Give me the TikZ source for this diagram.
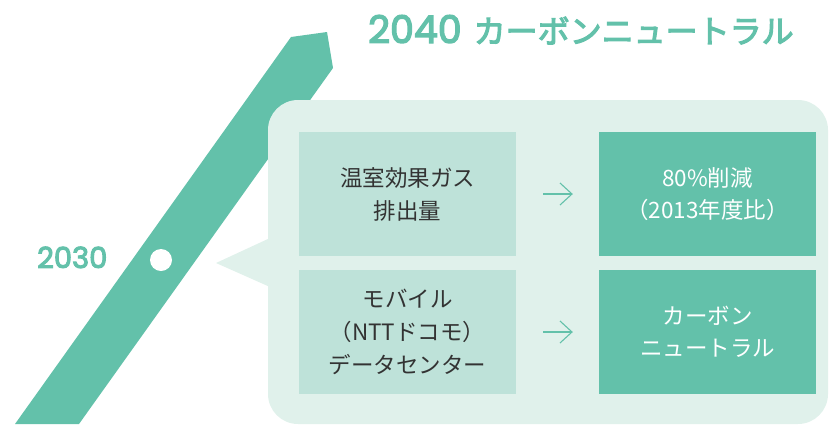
\documentclass[tikz,border=0pt]{standalone}
\usepackage{fontspec}
\usepackage{tikz}
\usetikzlibrary{arrows.meta}
\newfontfamily\jpfont{Noto Sans CJK JP}
\newfontfamily\jptitle[FakeBold=3.5]{Noto Sans CJK JP}
\newfontfamily\numfont[FakeBold=3.5]{Poppins}
\definecolor{bandteal}{HTML}{63C1AA}
\definecolor{callmint}{HTML}{E0F1EB}
\definecolor{srcmint}{HTML}{BEE2D9}
\definecolor{txtgray}{HTML}{333333}

\tikzset{
  srcbox/.style={fill=srcmint, minimum width=217pt, minimum height=124pt,
    align=center, text=txtgray, font=\jpfont\fontsize{22.5}{33}\selectfont},
  resbox/.style={fill=bandteal, minimum width=217pt, minimum height=124pt,
    align=center, text=white, font=\jpfont\fontsize{22.5}{32}\selectfont},
  thinarrow/.style={draw=bandteal, line width=1.1pt,
    -{Straight Barb[length=12pt,width=22pt]}, shorten <=27pt, shorten >=26pt}
}

\begin{document}
\begin{tikzpicture}[x=1pt,y=-1pt]
  \useasboundingbox (0,0) rectangle (834,424);
  % Band
  \fill[bandteal] (15,424) -- (291,37) -- (327,32) -- (333,68) -- (79,424) -- cycle;
  % Marker on the band
  \fill[white] (161,260) circle (11);
  \node[anchor=base west, inner sep=0, text=bandteal,
    font=\numfont\fontsize{29}{29}\selectfont] (y2030) at (37,268) {2030};
  % Title
  \node[anchor=base west, inner sep=0, text=bandteal] (title) at (368,43)
    {{\numfont\fontsize{38}{38}\selectfont 2040}\hspace{12pt}{\jptitle\fontsize{32}{32}\selectfont カーボンニュートラル}};
  % Callout
  \fill[callmint, rounded corners=30pt] (268,100) rectangle (828,424);
  \fill[callmint] (216,263) -- (270,238) -- (270,287) -- cycle;
  % Boxes
  \node[srcbox] (ghg) at (407.5,194) {温室効果ガス\\排出量};
  \node[srcbox] (mobile) at (407.5,332) {モバイル\\（NTTドコモ）\\データセンター};
  \node[resbox] (cut) at (707.5,194) {80\%削減\\（2013年度比）};
  \node[resbox] (neutral) at (707.5,332) {カーボン\\ニュートラル};
  % Arrows
  \draw[thinarrow] (ghg) -- (cut);
  \draw[thinarrow] (mobile) -- (neutral);
\end{tikzpicture}
\end{document}
